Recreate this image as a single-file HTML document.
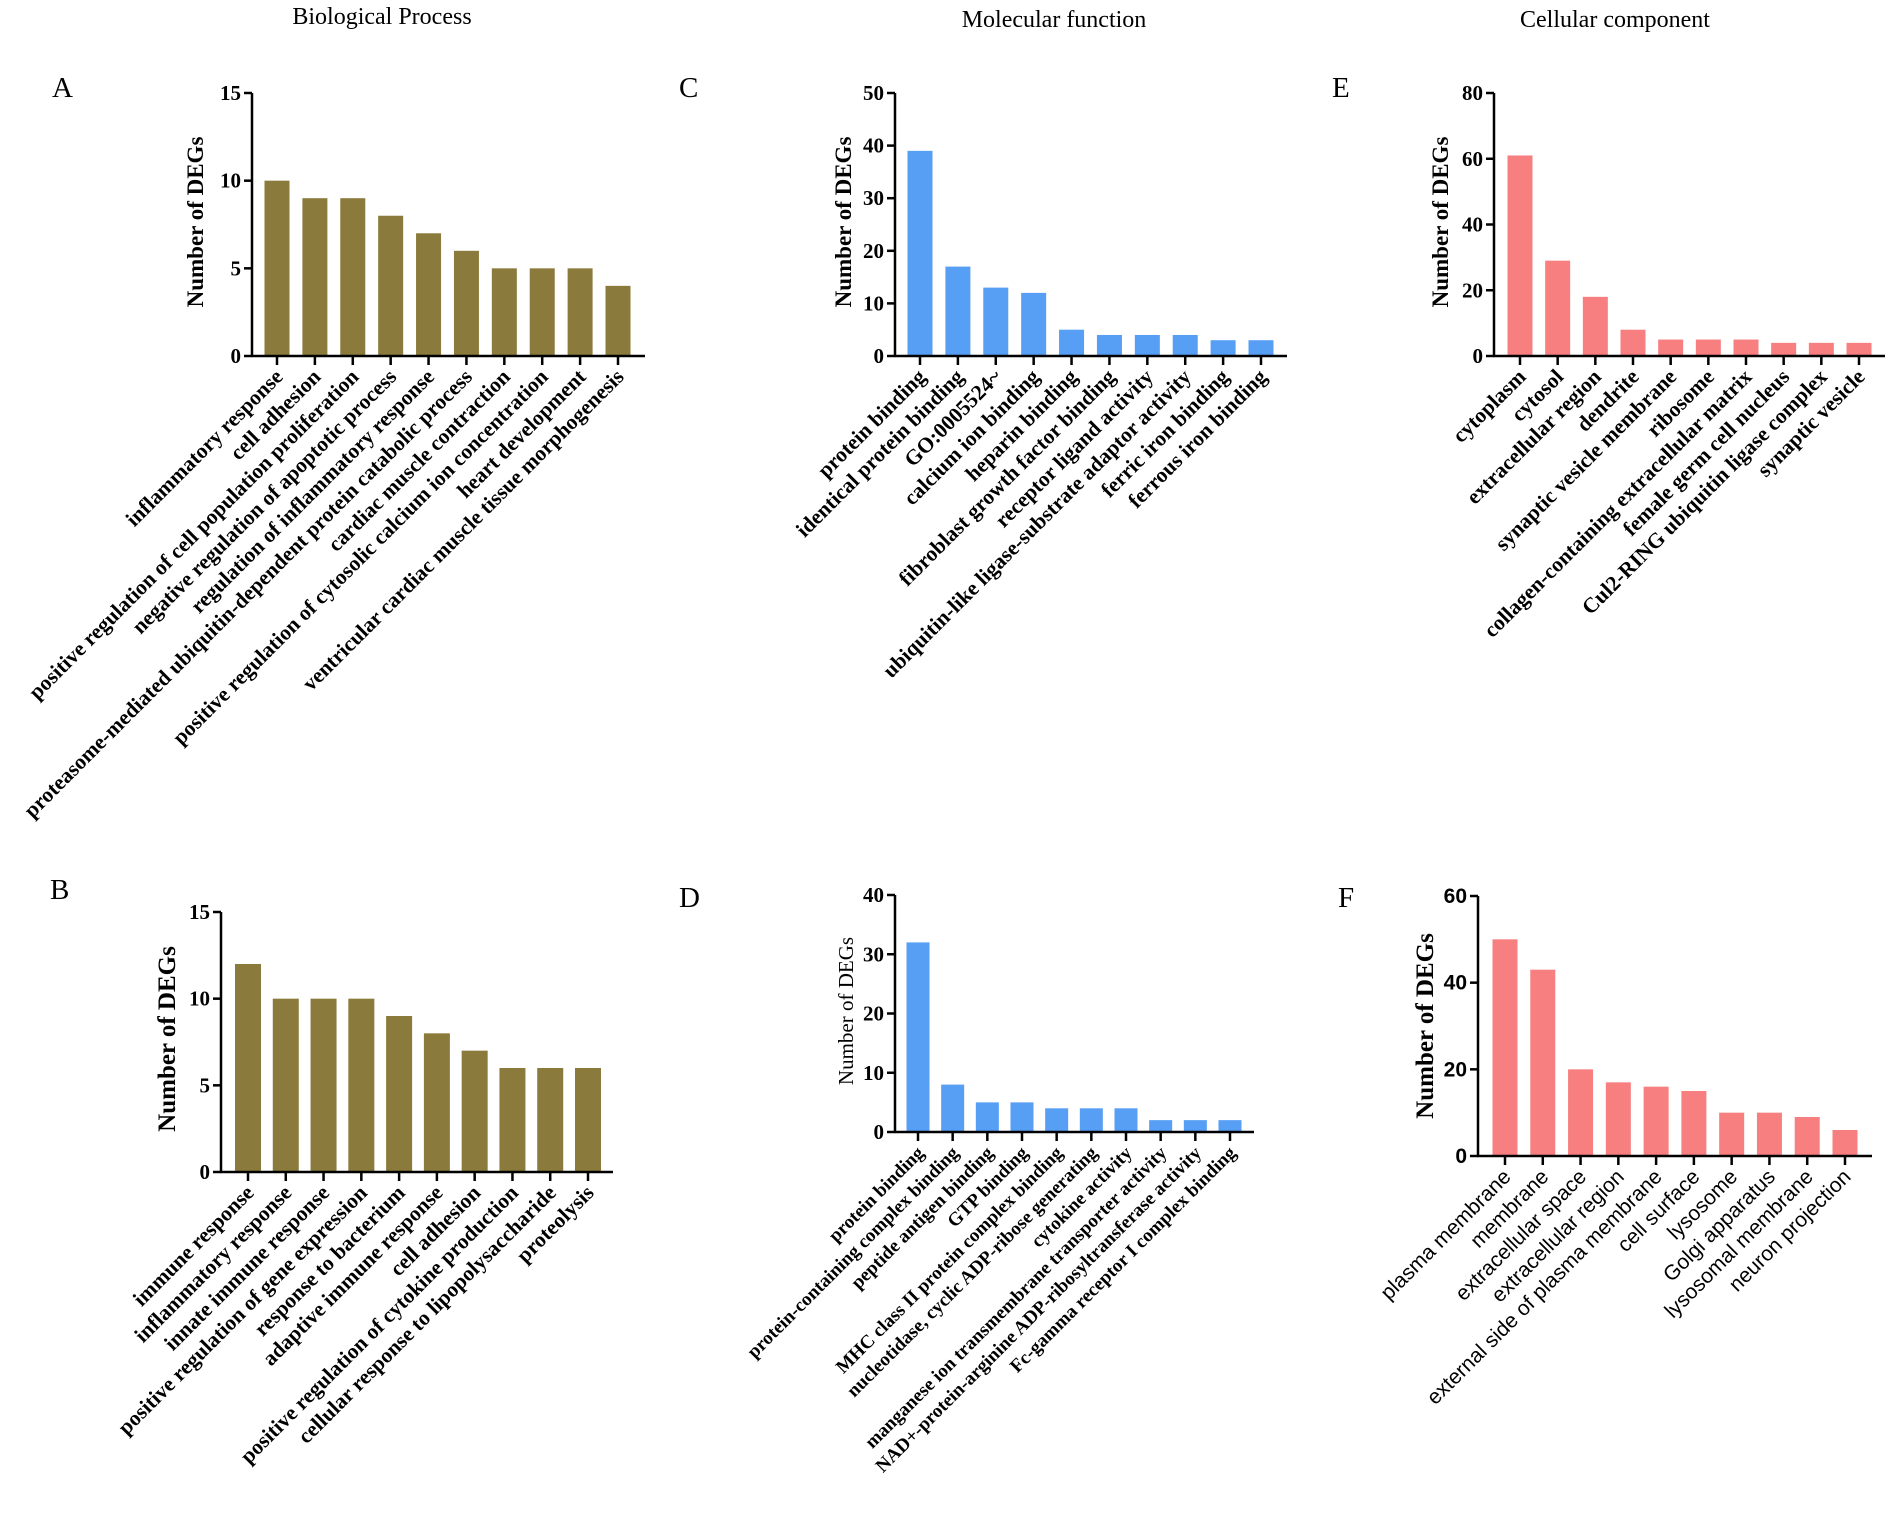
<!DOCTYPE html>
<html><head><meta charset="utf-8"><style>
html,body{margin:0;padding:0;background:#fff;}
svg{display:block;}
</style></head><body>
<svg id="fig" width="1902" height="1516" xmlns="http://www.w3.org/2000/svg" font-family="Liberation Serif, serif">
<text x="382" y="24" font-size="24" text-anchor="middle">Biological Process</text>
<text x="1054" y="27" font-size="24" text-anchor="middle">Molecular function</text>
<text x="1615" y="27" font-size="24" text-anchor="middle">Cellular component</text>
<text x="52" y="97" font-size="29">A</text>
<text x="679" y="97" font-size="29">C</text>
<text x="1332" y="97" font-size="29">E</text>
<text x="50" y="899" font-size="29">B</text>
<text x="679" y="907" font-size="29">D</text>
<text x="1338" y="907" font-size="29">F</text>
</svg>
<script>
const catsA = ["inflammatory response","cell adhesion","positive regulation of cell population proliferation","negative regulation of apoptotic process","regulation of inflammatory response","proteasome-mediated ubiquitin-dependent protein catabolic process","cardiac muscle contraction","positive regulation of cytosolic calcium ion concentration","heart development","ventricular cardiac muscle tissue morphogenesis"];
const valsA = [10,9,9,8,7,6,5,5,5,4];
const ticksA = [0,5,10,15];
const catsB = ["immune response","inflammatory response","innate immune response","positive regulation of gene expression","response to bacterium","adaptive immune response","cell adhesion","positive regulation of cytokine production","cellular response to lipopolysaccharide","proteolysis"];
const valsB = [12,10,10,10,9,8,7,6,6,6];
const ticksB = [0,5,10,15];
const catsC = ["protein binding","identical protein binding","GO:0005524~","calcium ion binding","heparin binding","fibroblast growth factor binding","receptor ligand activity","ubiquitin-like ligase-substrate adaptor activity","ferric iron binding","ferrous iron binding"];
const valsC = [39,17,13,12,5,4,4,4,3,3];
const ticksC = [0,10,20,30,40,50];
const catsD = ["protein binding","protein-containing complex binding","peptide antigen binding","GTP binding","MHC class II protein complex binding","nucleotidase, cyclic ADP-ribose generating","cytokine activity","manganese ion transmembrane transporter activity","NAD+-protein-arginine ADP-ribosyltransferase activity","Fc-gamma receptor I complex binding"];
const valsD = [32,8,5,5,4,4,4,2,2,2];
const ticksD = [0,10,20,30,40];
const catsE = ["cytoplasm","cytosol","extracellular region","dendrite","synaptic vesicle membrane","ribosome","collagen-containing extracellular matrix","female germ cell nucleus","Cul2-RING ubiquitin ligase complex","synaptic vesicle"];
const valsE = [61,29,18,8,5,5,5,4,4,4];
const ticksE = [0,20,40,60,80];
const catsF = ["plasma membrane","membrane","extracellular space","extracellular region","external side of plasma membrane","cell surface","lysosome","Golgi apparatus","lysosomal membrane","neuron projection"];
const valsF = [50,43,20,17,16,15,10,10,9,6];
const ticksF = [0,20,40,60];

const NS="http://www.w3.org/2000/svg";
const svg=document.getElementById('fig');
function mk(tag,attrs,parent){const e=document.createElementNS(NS,tag);for(const k in attrs)e.setAttribute(k,attrs[k]);(parent||svg).appendChild(e);return e;}

function chart(id,cats,vals,ticks,L){
  const g=mk('g',{});
  
  
  const ymax=ticks[ticks.length-1];
  const yS=v=>L.y0-(v/ymax)*(L.y0-L.y1);
  const step=(L.lastX-L.firstX)/(cats.length-1);
  const xS=i=>L.firstX+i*step;
  vals.forEach((v,i)=>{
    const r=mk('rect',{x:xS(i)-L.bw/2,y:yS(v),width:L.bw,height:L.y0-yS(v),fill:L.color},g);
    
    
  });
  const ya=mk('line',{x1:L.ax,y1:L.y0+1,x2:L.ax,y2:L.y1,stroke:'#000','stroke-width':2.5},g);
  
  
  const xa=mk('line',{x1:L.ax-1,y1:L.y0,x2:L.endX,y2:L.y0,stroke:'#000','stroke-width':2.5},g);
  
  
  ticks.forEach(t=>{
    mk('line',{x1:L.ax-8,y1:yS(t),x2:L.ax,y2:yS(t),stroke:'#000','stroke-width':2.5},g);
    const tx=mk('text',{x:L.ax-11,y:yS(t)+7,'font-size':21,'font-weight':'bold','text-anchor':'end','font-family':L.tickFont},g);
    tx.textContent=t;
    
    
  });
  cats.forEach((c,i)=>{
    const x=xS(i);
    mk('line',{x1:x,y1:L.y0,x2:x,y2:L.y0+9,stroke:'#000','stroke-width':2.5},g);
    const ax=x+7, ay=L.y0+22;
    const tx=mk('text',{x:ax,y:ay,'font-size':L.lfs,'font-weight':L.lfw,'text-anchor':'end','font-family':L.labelFont,transform:'rotate(-45 '+ax+' '+ay+')'},g);
    tx.textContent=c;
    
    
  });
  const yt=mk('text',{x:L.tx,y:L.ty,'font-size':L.tfs,'font-weight':L.tfw,'text-anchor':'middle',transform:'rotate(-90 '+L.tx+' '+L.ty+')'},g);
  yt.textContent='Number of  DEGs';
  
  
}
const olive='#8a7a3b', blue='#579ef5', pink='#f77f80';
const serif='Liberation Serif, serif', sans='Liberation Sans, sans-serif';
chart('bp-a',catsA,valsA,ticksA,{ax:252,y0:356,y1:93,firstX:277,lastX:618,endX:645,bw:25,color:olive,tx:203,ty:222,tfs:23,tfw:'bold',lfs:21.5,lfw:'bold',labelFont:serif,tickFont:serif});
chart('mf-c',catsC,valsC,ticksC,{ax:895,y0:356,y1:93,firstX:920,lastX:1261,endX:1287,bw:25,color:blue,tx:851,ty:222,tfs:23,tfw:'bold',lfs:21.5,lfw:'bold',labelFont:serif,tickFont:serif});
chart('cc-e',catsE,valsE,ticksE,{ax:1494,y0:356,y1:93,firstX:1520,lastX:1859,endX:1885,bw:25,color:pink,tx:1448,ty:222,tfs:23,tfw:'bold',lfs:21.5,lfw:'bold',labelFont:serif,tickFont:serif});
chart('bp-b',catsB,valsB,ticksB,{ax:221,y0:1172,y1:912,firstX:248,lastX:588,endX:613,bw:26,color:olive,tx:175,ty:1039,tfs:25,tfw:'bold',lfs:21.5,lfw:'bold',labelFont:serif,tickFont:serif});
chart('mf-d',catsD,valsD,ticksD,{ax:895,y0:1132,y1:895,firstX:918,lastX:1230,endX:1254,bw:23,color:blue,tx:853,ty:1011,tfs:21,tfw:'normal',lfs:19,lfw:'bold',labelFont:serif,tickFont:serif});
chart('cc-f',catsF,valsF,ticksF,{ax:1478,y0:1156,y1:896,firstX:1505,lastX:1845,endX:1872,bw:25,color:pink,tx:1433,ty:1026,tfs:25,tfw:'bold',lfs:21,lfw:'normal',labelFont:sans,tickFont:sans});
</script>
</body></html>
